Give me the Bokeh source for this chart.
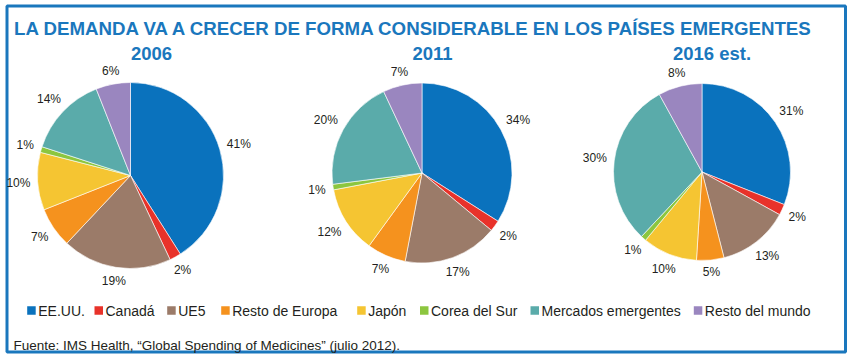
import numpy as np
from bokeh.plotting import figure
from bokeh.models import Range1d, ColumnDataSource
from bokeh.core.properties import value
from bokeh.embed import file_html
from bokeh.resources import INLINE

# ---- data ----
categories = ["EE.UU.", "Canadá", "UE5", "Resto de Europa", "Japón",
              "Corea del Sur", "Mercados emergentes", "Resto del mundo"]
years = ["2006", "2011", "2016 est."]
share_2006 = [41, 2, 19, 7, 10, 1, 14, 6]
share_2011 = [34, 2, 17, 7, 12, 1, 20, 7]
share_2016 = [31, 2, 13, 5, 10, 1, 30, 8]
title_text = "LA DEMANDA VA A CRECER DE FORMA CONSIDERABLE EN LOS PAÍSES EMERGENTES"
source_text = "Fuente: IMS Health, \u201cGlobal Spending of Medicines\u201d (julio 2012)."

# ---- styles / layout ----
colors = ["#0a72bd", "#e8322a", "#9b7b69", "#f5921e", "#f5c532",
          "#8cc63f", "#5aabaa", "#9a86bf"]
title_color = "#1a77bd"
W, H = 852, 359
FONT = "Liberation Sans"
pie_cx = [130, 421.5, 701.5]
pie_cy = [184, 186.5, 187.5]
pie_r = [93, 90, 88.5]
year_x = [151, 432, 711.5]
legend_left = [26.7, 94, 166.7, 220.7, 356.7, 419.5, 530, 693.3]
legend_y = 49
sq = 8.5

p = figure(width=W, height=H, x_range=Range1d(0, W), y_range=Range1d(0, H),
           output_backend="svg", toolbar_location=None, min_border=0,
           title=None, x_axis_type=None, y_axis_type=None)
p.grid.visible = False
p.outline_line_color = None
p.background_fill_color = "white"
p.border_fill_color = "white"

# border box
p.quad(left=[6.5], right=[845], bottom=[7.5], top=[353.5],
       fill_color=None, line_color=title_color, line_width=3)

# title
p.text(x=[414], y=[331.5], text=[title_text], text_align="center",
       text_baseline="alphabetic", text_font=value(FONT), text_font_size="18.7px",
       text_font_style="bold", text_color=title_color)

# year titles
p.text(x=year_x, y=[306] * 3, text=years, text_align="center",
       text_baseline="alphabetic", text_font=value(FONT), text_font_size="18.5px",
       text_font_style="bold", text_color=title_color)

def char_w(s, size=12.0):
    w = 0.0
    for ch in s:
        w += (0.889 if ch == "%" else 0.556) * size
    return w

for shares, cx, cy, r in zip([share_2006, share_2011, share_2016], pie_cx, pie_cy, pie_r):
    vals = np.array(shares, dtype=float)
    frac = vals / vals.sum()
    cum = np.concatenate([[0], np.cumsum(frac)])
    start = np.pi / 2 - 2 * np.pi * cum[:-1]
    end = np.pi / 2 - 2 * np.pi * cum[1:]
    src = ColumnDataSource(dict(start=start, end=end, color=colors, cat=categories))
    p.wedge(x=cx, y=cy, radius=r, start_angle="start", end_angle="end",
            direction="clock", fill_color="color", line_color="white",
            line_width=0.6, source=src)
    mid = 2 * np.pi * (cum[:-1] + frac / 2)
    labels = [f"{int(v)}%" for v in shares]
    lx, ly = [], []
    for th, lab in zip(mid, labels):
        ux, uy = np.sin(th), np.cos(th)
        w = char_w(lab)
        h = 9.0
        d = r + 7 + (w / 2) * abs(ux) + (h / 2) * abs(uy)
        lx.append(max(cx + d * ux, w / 2 + 2))
        ly.append(cy + d * uy)
    p.text(x=lx, y=ly, text=labels, text_align="center", text_baseline="middle",
           text_font=value(FONT), text_font_size="12px", text_color="#231f20")

# legend
p.rect(x=[l + sq / 2 for l in legend_left], y=[legend_y] * len(categories),
       width=sq, height=sq, fill_color=colors, line_color=None)
p.text(x=[l + 11 for l in legend_left], y=[legend_y] * len(categories), text=categories,
       text_align="left", text_baseline="middle", text_font=value(FONT),
       text_font_size="14px", text_color="#231f20")

# source
p.text(x=[13], y=[14], text=[source_text], text_align="left", text_baseline="alphabetic",
       text_font=value(FONT), text_font_size="13.5px", text_color="#231f20")

open("out.html", "w").write(file_html(p, INLINE))
